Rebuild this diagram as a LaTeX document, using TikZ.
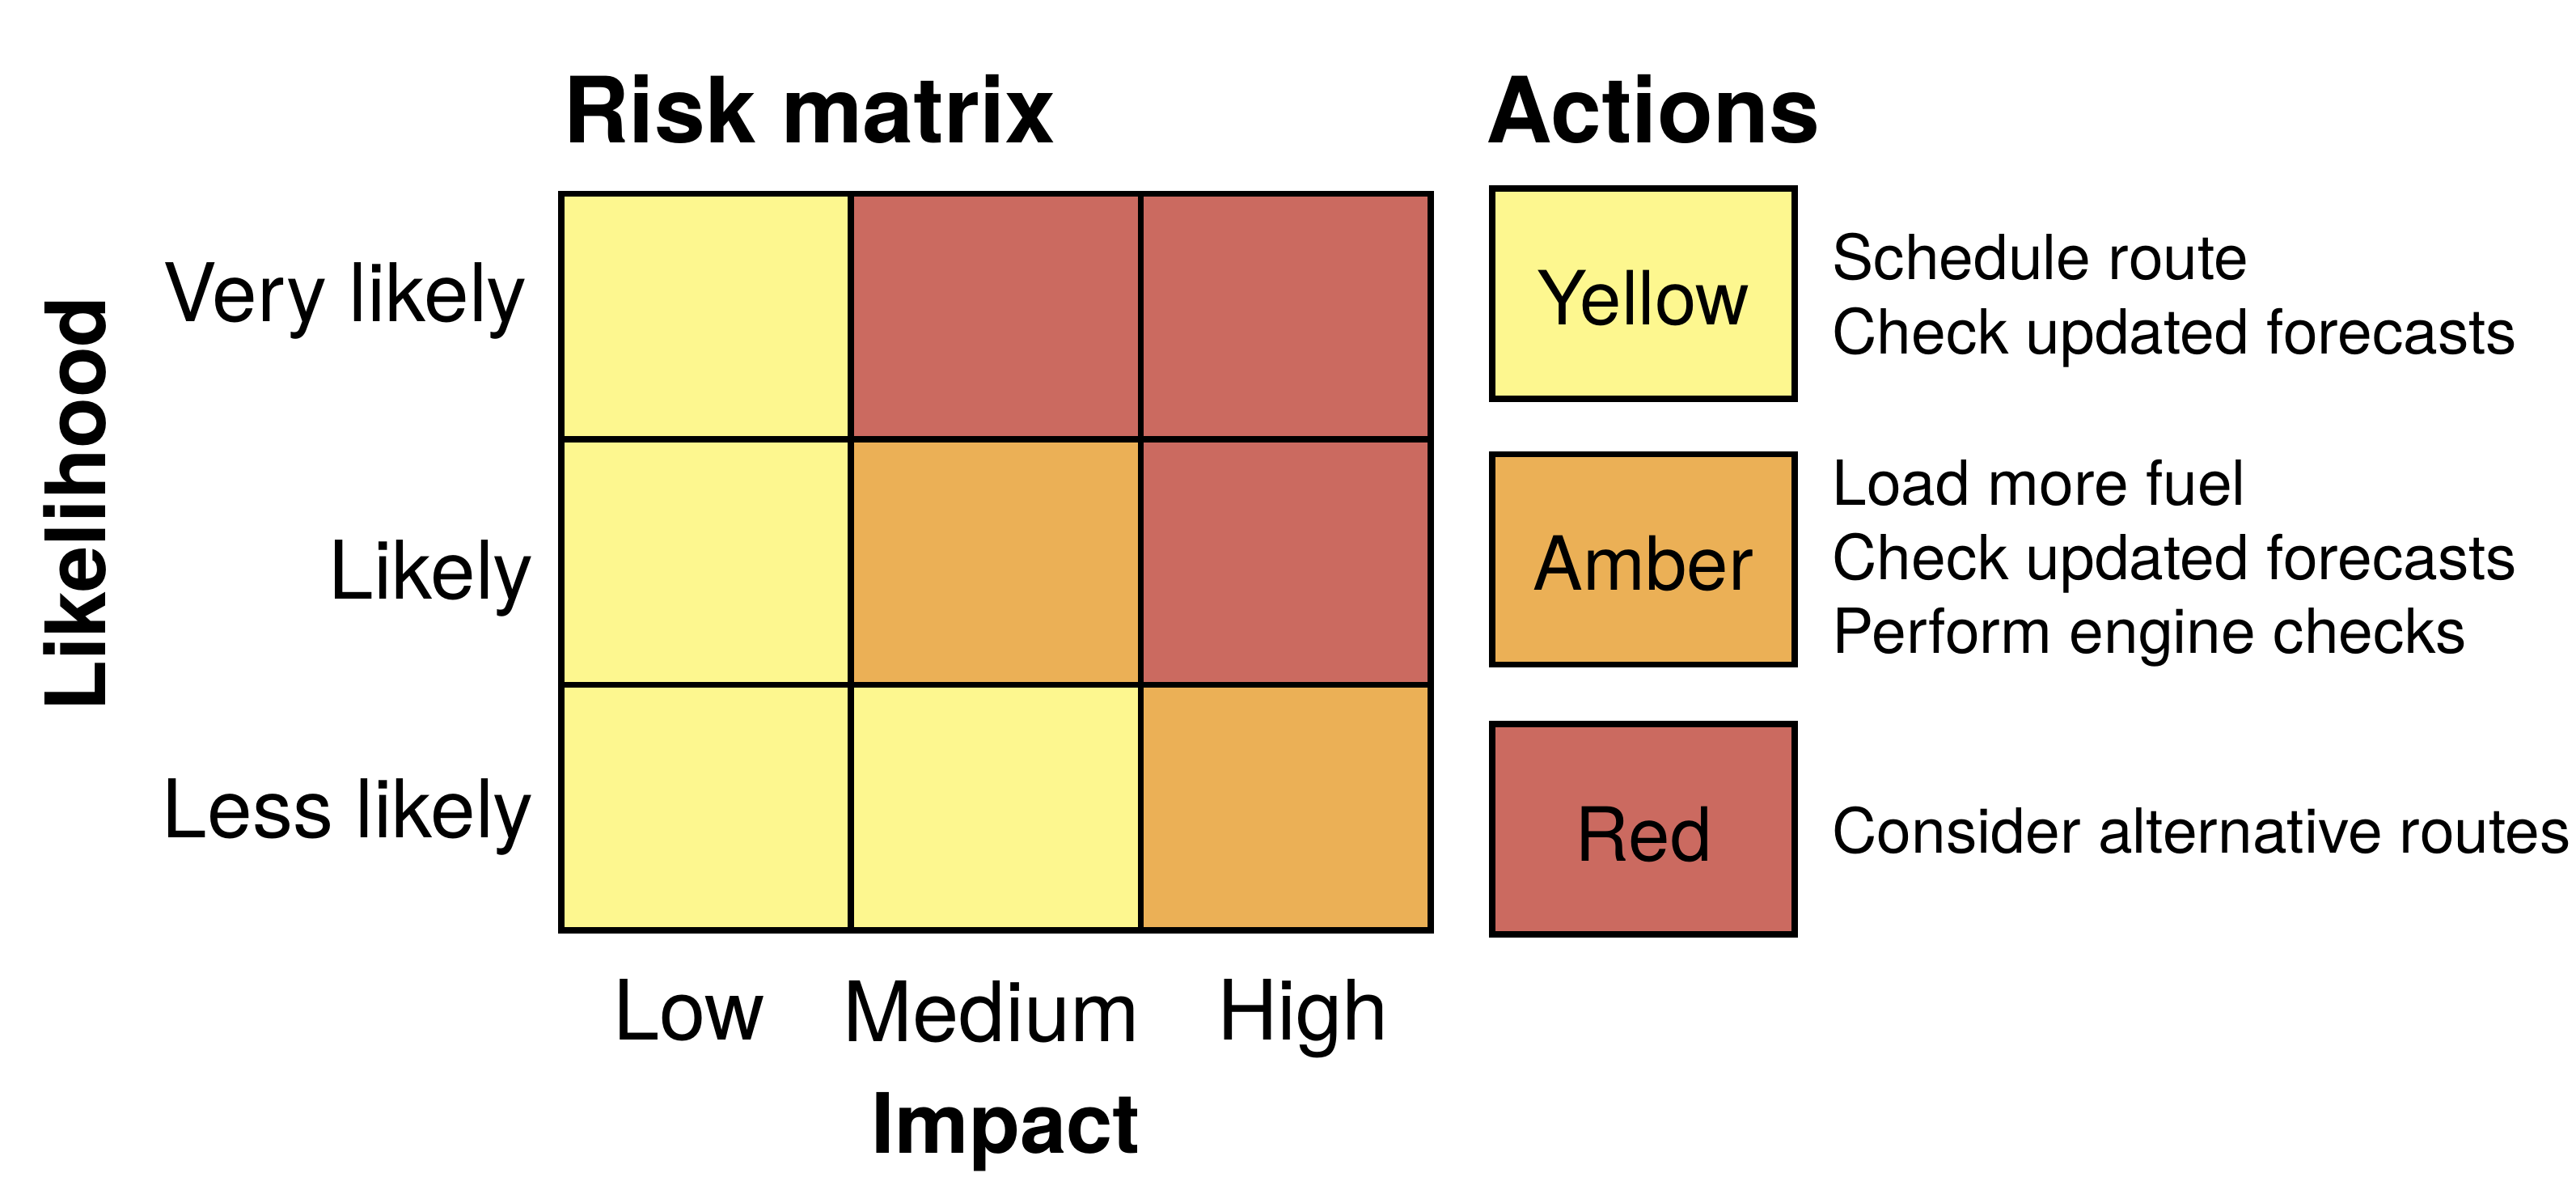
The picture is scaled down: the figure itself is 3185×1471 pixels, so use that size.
\documentclass[tikz,border=0pt]{standalone}
\usepackage{fontspec}
\setmainfont{TeX Gyre Heros}
\definecolor{cyel}{RGB}{253,247,143}
\definecolor{camb}{RGB}{235,176,86}
\definecolor{cred}{RGB}{203,106,96}
\begin{document}
\begin{tikzpicture}[x=0.5pt,y=-0.5pt,
  cell/.style={draw=black, line width=3.75pt, minimum width=179.17pt, minimum height=151.67pt, inner sep=0pt, anchor=north west},
  legbox/.style={draw=black, line width=3.6pt, minimum width=187pt, minimum height=130pt, inner sep=0pt},
  rowlab/.style={font=\fontsize{50}{60}\selectfont, inner sep=0pt, anchor=base east},
  collab/.style={font=\fontsize{51.5}{62}\selectfont, inner sep=0pt, anchor=base},
  boxlab/.style={font=\fontsize{46.2}{55}\selectfont, inner sep=0pt, anchor=base},
  acttext/.style={font=\fontsize{38.4}{46}\selectfont, inner sep=0pt, anchor=base west},
  headtext/.style={font=\fontsize{56.5}{68}\selectfont\bfseries, inner sep=0pt, anchor=base west},
  axtext/.style={font=\fontsize{51.5}{62}\selectfont\bfseries, inner sep=0pt, anchor=base}]
\useasboundingbox (0,0) rectangle (3185,1471);

% titles
\node[headtext] (title) at (696,177) {Risk matrix};
\node[headtext] (acttitle) at (1837,177) {Actions};

% grid cells
\node[cell, fill=cyel] (c11) at (690,236) {};
\node[cell, fill=cred] (c12) at (1048.3,236) {};
\node[cell, fill=cred] (c13) at (1406.7,236) {};
\node[cell, fill=cyel] (c21) at (690,539.3) {};
\node[cell, fill=camb] (c22) at (1048.3,539.3) {};
\node[cell, fill=cred] (c23) at (1406.7,539.3) {};
\node[cell, fill=cyel] (c31) at (690,842.7) {};
\node[cell, fill=cyel] (c32) at (1048.3,842.7) {};
\node[cell, fill=camb] (c33) at (1406.7,842.7) {};

% row labels
\node[rowlab] (vlikely) at (652,397) {Very likely};
\node[rowlab] (likely) at (660,740) {Likely};
\node[rowlab] (llikely) at (660,1035) {Less likely};

% column labels
\node[collab] (low) at (852,1285) {Low};
\node[collab] (medium) at (1226,1287) {Medium};
\node[collab] (high) at (1611,1285) {High};

% axis titles
\node[axtext] (impact) at (1244,1425) {Impact};
\node[axtext, rotate=90] (likelihood) at (130,623) {Likelihood};

% legend boxes
\node[legbox, fill=cyel] (byel) at (2032,363) {};
\node[legbox, fill=camb] (bamb) at (2032,691.5) {};
\node[legbox, fill=cred] (bred) at (2032,1025) {};
\node[boxlab] (lyel) at (2032,401) {Yellow};
\node[boxlab] (lamb) at (2032,729) {Amber};
\node[boxlab] (lred) at (2032,1064) {Red};

% actions
\node[acttext] (a1) at (2265,345) {Schedule route};
\node[acttext] (a2) at (2265,437) {Check updated forecasts};
\node[acttext] (a3) at (2265,624) {Load more fuel};
\node[acttext] (a4) at (2265,716) {Check updated forecasts};
\node[acttext] (a5) at (2265,807) {Perform engine checks};
\node[acttext] (a6) at (2265,1054) {Consider alternative routes};
\end{tikzpicture}
\end{document}
